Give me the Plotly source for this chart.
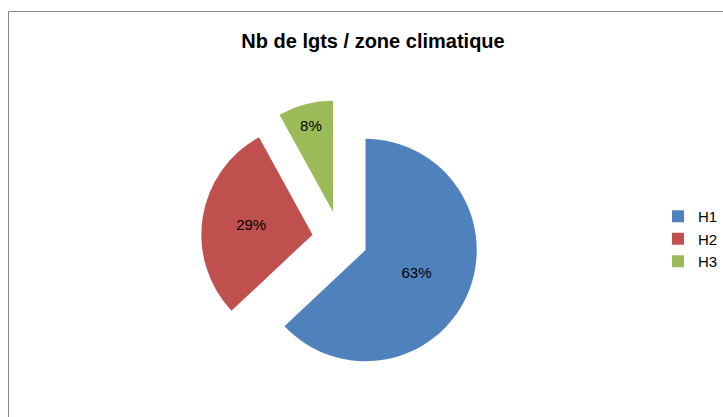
import plotly.graph_objects as go

labels = ["H1", "H2", "H3"]
values = [63, 29, 8]
colors = ["#4F81BD", "#C0504D", "#9BBB59"]

W, H = 723, 417
cx, cy = 340, 239
half = 139

fig = go.Figure(go.Pie(
    labels=labels, values=values,
    marker=dict(colors=colors, line=dict(width=0)),
    pull=[0.25, 0.25, 0.25],
    sort=False, direction="clockwise", rotation=0,
    textinfo="percent", textposition="inside",
    insidetextfont=dict(family="Liberation Sans", size=15, color="black"),
    insidetextorientation="horizontal",
    domain=dict(x=[(cx - half) / W, (cx + half) / W], y=[1 - (cy + half) / H, 1 - (cy - half) / H]),
    hoverinfo="label+percent",
))

fig.update_layout(
    width=W, height=H,
    margin=dict(l=0, r=0, t=0, b=0, autoexpand=False),
    paper_bgcolor="white",
    title=dict(text="<b>Nb de lgts / zone climatique</b>", x=373 / W, xanchor="center",
               y=1 - 41 / H, yanchor="middle",
               font=dict(family="Liberation Sans", size=20, color="black")),
    legend=dict(x=658 / W, y=1 - 200 / H, xanchor="left", yanchor="top",
                font=dict(family="Liberation Sans", size=15, color="black"),
                itemwidth=30),
    shapes=[dict(type="rect", xref="paper", yref="paper",
                 x0=8.5 / W, x1=1.02, y0=-0.02, y1=1 - 11.5 / H,
                 line=dict(color="#868686", width=1))],
)

fig.write_html("out.html", config={"displayModeBar": False},
               post_script="document.body.style.margin='0';")
